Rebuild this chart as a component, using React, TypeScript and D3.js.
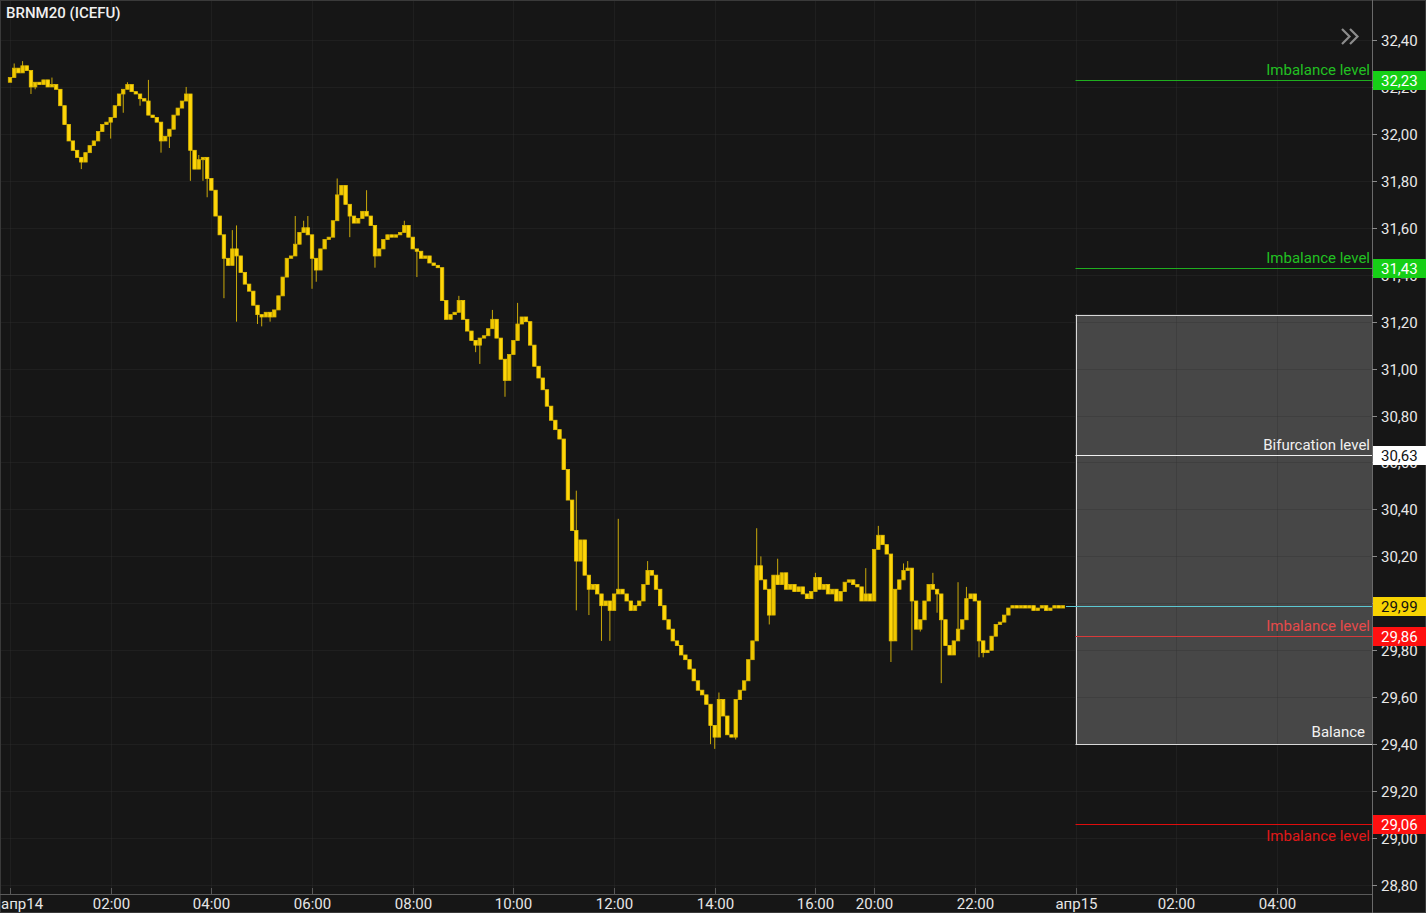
import React from "react";
import * as d3 from "d3";

// ---------- DATA ----------
const title = "BRNM20 (ICEFU)";

// 5-minute closes, апр14 00:00 → 23:45 (trading slots)
const closes = [
  32.24, 32.28, 32.26, 32.29, 32.27, 32.2, 32.22, 32.21, 32.23, 32.2, 32.21, 32.19,
  32.12, 32.04, 31.97, 31.93, 31.9, 31.88, 31.92, 31.95, 31.97, 32.01, 32.04, 32.05,
  32.07, 32.12, 32.17, 32.19, 32.21, 32.18, 32.17, 32.15, 32.14, 32.08, 32.07, 32.05,
  31.97, 31.99, 32.02, 32.08, 32.11, 32.14, 32.17, 31.93, 31.85, 31.89, 31.9, 31.81,
  31.76, 31.65, 31.57, 31.47, 31.44, 31.51, 31.48, 31.41, 31.36, 31.33, 31.27, 31.23,
  31.22, 31.24, 31.22, 31.25, 31.31, 31.39, 31.47, 31.48, 31.53, 31.58, 31.6, 31.57,
  31.47, 31.42, 31.51, 31.55, 31.56, 31.63, 31.74, 31.78, 31.7, 31.65, 31.62, 31.64,
  31.67, 31.65, 31.61, 31.48, 31.51, 31.55, 31.57, 31.56, 31.57, 31.58, 31.61, 31.56,
  31.51, 31.5, 31.47, 31.48, 31.45, 31.44, 31.43, 31.29, 31.21, 31.23, 31.24, 31.29,
  31.21, 31.16, 31.12, 31.1, 31.13, 31.14, 31.17, 31.21, 31.13, 31.04, 30.95, 31.06,
  31.12, 31.19, 31.22, 31.2, 31.1, 31.01, 30.96, 30.91, 30.84, 30.78, 30.74, 30.7,
  30.57, 30.44, 30.31, 30.18, 30.27, 30.12, 30.06, 30.08, 30.04, 29.99, 30.01, 29.97,
  30.04, 30.06, 30.04, 30.01, 29.97, 29.99, 30.01, 30.08, 30.14, 30.12, 30.06, 29.99,
  29.93, 29.89, 29.84, 29.82, 29.78, 29.76, 29.72, 29.67, 29.63, 29.61, 29.57, 29.48,
  29.43, 29.59, 29.52, 29.44, 29.43, 29.59, 29.63, 29.67, 29.76, 29.84, 30.16, 30.1,
  30.06, 29.95, 30.12, 30.08, 30.13, 30.06, 30.08, 30.05, 30.07, 30.04, 30.02, 30.05,
  30.11, 30.06, 30.08, 30.04, 30.06, 30.01, 30.05, 30.09, 30.1, 30.08, 30.07, 30.01,
  30.04, 30.01,
  30.23, 30.29, 30.25, 30.21, 29.84, 30.06, 30.1, 30.14, 30.15, 30.01, 29.89, 29.93,
  30.01, 30.08, 30.06, 30.04, 29.93, 29.82, 29.78, 29.84, 29.89, 29.93, 30.02, 30.04,
  30.01, 29.84, 29.79, 29.8, 29.86, 29.91, 29.92, 29.95, 29.98, 29.99, 29.98, 29.99,
  29.98, 29.99, 29.97, 29.98, 29.99, 29.97, 29.98, 29.99, 29.98, 29.99,
];
const firstOpen = 32.22;

// notable wick extremes [slot, price]
const wickHighs: [number, number][] = [
  [1, 32.3], [3, 32.31], [10, 32.24], [28, 32.22], [33, 32.23], [42, 32.2], [45, 31.91],
  [53, 31.59], [54, 31.61], [68, 31.65], [70, 31.63], [71, 31.65], [78, 31.81], [85, 31.76],
  [94, 31.63], [107, 31.31], [115, 31.25], [121, 31.28], [135, 30.48], [145, 30.36],
  [152, 30.18], [169, 29.62], [178, 30.32], [179, 30.2], [183, 30.19], [192, 30.13],
  [204, 30.15], [207, 30.33], [213, 30.17], [214, 30.18], [220, 30.13], [226, 30.09],
  [228, 30.07],
];
const wickLows: [number, number][] = [
  [5, 32.17], [6, 32.19], [17, 31.85], [24, 31.98], [27, 32.09], [31, 32.12], [36, 31.92],
  [38, 31.94], [43, 31.8], [46, 31.8], [47, 31.73], [51, 31.3], [54, 31.2], [59, 31.19],
  [60, 31.18], [62, 31.2], [72, 31.34], [73, 31.37], [81, 31.56], [87, 31.43], [97, 31.39],
  [111, 31.07], [112, 31.02], [118, 30.88], [135, 29.97], [138, 29.95], [141, 29.84],
  [143, 29.84], [167, 29.4], [168, 29.38], [173, 29.42], [181, 29.91], [210, 29.75],
  [215, 29.8], [217, 29.88], [221, 29.96], [222, 29.66], [231, 29.77], [232, 29.77],
];

const yTicks = [28.8, 29.0, 29.2, 29.4, 29.6, 29.8, 30.0, 30.2, 30.4, 30.6, 30.8, 31.0, 31.2, 31.4, 31.6, 31.8, 32.0, 32.2, 32.4];
const xTickSlots = [0, 24, 48, 72, 96, 120, 144, 168, 192, 206, 230, 254, 278, 302];
const xTickLabels = ["апр14", "02:00", "04:00", "06:00", "08:00", "10:00", "12:00", "14:00", "16:00", "20:00", "22:00", "апр15", "02:00", "04:00"];

const levelValues = [32.23, 31.43, 30.63, 29.86, 29.06];
const levelLabels = ["Imbalance level", "Imbalance level", "Bifurcation level", "Imbalance level", "Imbalance level"];
const levelKinds = ["green", "green", "white", "red", "darkred"];

const balanceTop = 31.23;
const balanceBottom = 29.4;
const balanceLabel = "Balance";
const zoneStartSlot = 254;

// ---------- STYLE ----------
const W = 1426;
const H = 913;
const plotRight = 1372;
const axisY = 894;
const FONT = "Roboto, 'Noto Sans', sans-serif";
const BG = "#161616";
const FS = 15;

const kindStyle: Record<string, { line: string; text: string; tag: string; tagText: string; below?: boolean }> = {
  green: { line: "#1fae1f", text: "#22c022", tag: "#16cf16", tagText: "#ffffff" },
  white: { line: "#f0f0f0", text: "#f0f0f0", tag: "#ffffff", tagText: "#111111" },
  red: { line: "#d83a3a", text: "#e64a4a", tag: "#ff1010", tagText: "#ffffff" },
  darkred: { line: "#e00c0c", text: "#e01818", tag: "#ff1010", tagText: "#ffffff", below: true },
};

const fmt = (v: number) => d3.format(".2f")(v).replace(".", ",");

export default function App() {
  const x = d3.scaleLinear().domain([0, 254]).range([10, 1075.5]);
  const y = d3.scaleLinear().domain([28.8, 32.4]).range([885, 40]);

  const hiMap = new Map(wickHighs);
  const loMap = new Map(wickLows);
  const candles = closes.map((c, i) => {
    const o = i === 0 ? firstOpen : closes[i - 1];
    const h = Math.max(o, c, hiMap.get(i) ?? -Infinity);
    const l = Math.min(o, c, loMap.get(i) ?? Infinity);
    return { i, o, c, h, l };
  });
  const last = closes[closes.length - 1];
  const bw = 3.4;
  const zoneX = x(zoneStartSlot);

  return (
    <svg
      width={W}
      height={H}
      style={{ position: "absolute", left: 0, top: 0, display: "block" }}
      fontFamily={FONT}
    >
      <rect x={0} y={0} width={W} height={H} fill={BG} />

      {/* balance zone */}
      <rect
        x={zoneX}
        y={y(balanceTop)}
        width={plotRight - zoneX}
        height={y(balanceBottom) - y(balanceTop)}
        fill="#474747"
      />

      {/* grid */}
      <g stroke="#303030" strokeOpacity={0.35}>
        {yTicks.map((t) => (
          <line key={"gy" + t} x1={0} x2={plotRight} y1={Math.round(y(t)) + 0.5} y2={Math.round(y(t)) + 0.5} />
        ))}
        {xTickSlots.map((s, k) => (
          <line key={"gx" + k} x1={Math.round(x(s)) + 0.5} x2={Math.round(x(s)) + 0.5} y1={0} y2={axisY} />
        ))}
      </g>

      {/* balance box borders */}
      <g stroke="#d8d8d8" strokeWidth={1} fill="none">
        <line x1={zoneX} x2={plotRight} y1={Math.round(y(balanceTop)) + 0.5} y2={Math.round(y(balanceTop)) + 0.5} />
        <line x1={zoneX} x2={plotRight} y1={Math.round(y(balanceBottom)) + 0.5} y2={Math.round(y(balanceBottom)) + 0.5} />
        <line x1={Math.round(zoneX) + 0.5} x2={Math.round(zoneX) + 0.5} y1={y(balanceTop)} y2={y(balanceBottom)} />
      </g>
      <text x={1365} y={y(balanceBottom) - 7} textAnchor="end" fontSize={FS} fill="#f2f2f2">
        {balanceLabel}
      </text>

      {/* level lines and labels */}
      {levelValues.map((v, k) => {
        const st = kindStyle[levelKinds[k]];
        const ly = Math.round(y(v)) + 0.5;
        return (
          <g key={"lv" + k}>
            <line x1={zoneX} x2={plotRight} y1={ly} y2={ly} stroke={st.line} strokeWidth={1} />
            <text
              x={1370}
              y={st.below ? ly + 16 : ly - 6}
              textAnchor="end"
              fontSize={FS}
              fill={st.text}
            >
              {levelLabels[k]}
            </text>
          </g>
        );
      })}

      {/* current price line */}
      <line
        x1={x(closes.length - 1) + 3}
        x2={plotRight}
        y1={Math.round(y(last)) + 0.5}
        y2={Math.round(y(last)) + 0.5}
        stroke="#5cc8d2"
        strokeWidth={1}
      />

      {/* candles */}
      <g>
        {candles.map((d) => {
          const cx = x(d.i);
          const top = y(Math.max(d.o, d.c));
          const bot = y(Math.min(d.o, d.c));
          const up = d.c > d.o;
          return (
            <g key={"c" + d.i}>
              <line x1={cx} x2={cx} y1={y(d.h)} y2={y(d.l)} stroke="#c9a90a" strokeWidth={1} />
              <rect
                x={cx - bw / 2}
                y={top}
                width={bw}
                height={Math.max(1, bot - top)}
                fill={up ? "#f0c800" : "#ffd60a"}
                stroke={up ? "#d8b400" : "#e8c200"}
                strokeWidth={0.8}
              />
            </g>
          );
        })}
      </g>

      {/* frame & axes */}
      <rect x={0.5} y={0.5} width={W - 1} height={H - 1} fill="none" stroke="#3a3a3a" />
      <line x1={0} x2={plotRight} y1={axisY + 0.5} y2={axisY + 0.5} stroke="#5a5a5a" />
      <line x1={plotRight + 0.5} x2={plotRight + 0.5} y1={0} y2={H} stroke="#6a6a6a" />

      {/* y axis */}
      {yTicks.map((t) => {
        const ty = Math.round(y(t)) + 0.5;
        return (
          <g key={"yt" + t}>
            <line x1={plotRight} x2={plotRight + 5} y1={ty} y2={ty} stroke="#8a8a8a" />
            <text x={1381} y={ty} dominantBaseline="central" fontSize={FS} fill="#e8e8e8">
              {fmt(t)}
            </text>
          </g>
        );
      })}

      {/* x axis */}
      {xTickSlots.map((s, k) => {
        const tx = Math.round(x(s)) + 0.5;
        const first = k === 0;
        return (
          <g key={"xt" + k}>
            <line x1={tx} x2={tx} y1={axisY - 6} y2={axisY} stroke="#5a5a5a" />
            <text
              x={first ? 1 : tx}
              y={909}
              textAnchor={first ? "start" : "middle"}
              fontSize={FS}
              fill="#e6e6e6"
            >
              {xTickLabels[k]}
            </text>
          </g>
        );
      })}

      {/* price tags */}
      {levelValues.map((v, k) => {
        const st = kindStyle[levelKinds[k]];
        const ty = Math.round(y(v));
        return (
          <g key={"tag" + k}>
            <rect x={plotRight + 1} y={ty - 9} width={W - plotRight - 1} height={19} fill={st.tag} />
            <text x={1381} y={ty + 0.5} dominantBaseline="central" fontSize={FS} fill={st.tagText}>
              {fmt(v)}
            </text>
          </g>
        );
      })}
      <g>
        <rect x={plotRight + 1} y={Math.round(y(last)) - 9} width={W - plotRight - 1} height={19} fill="#f7d302" />
        <text x={1381} y={Math.round(y(last)) + 0.5} dominantBaseline="central" fontSize={FS} fill="#111111">
          {fmt(last)}
        </text>
      </g>

      {/* title */}
      <text x={6} y={18} fontSize={15} fontWeight={500} fill="#f0f0f0">
        {title}
      </text>

      {/* collapse icon */}
      <g stroke="#8c8c8c" strokeWidth={2.2} fill="none">
        <path d="M1342,29 L1349.5,36.5 L1342,44" />
        <path d="M1350,29 L1357.5,36.5 L1350,44" />
      </g>
    </svg>
  );
}
